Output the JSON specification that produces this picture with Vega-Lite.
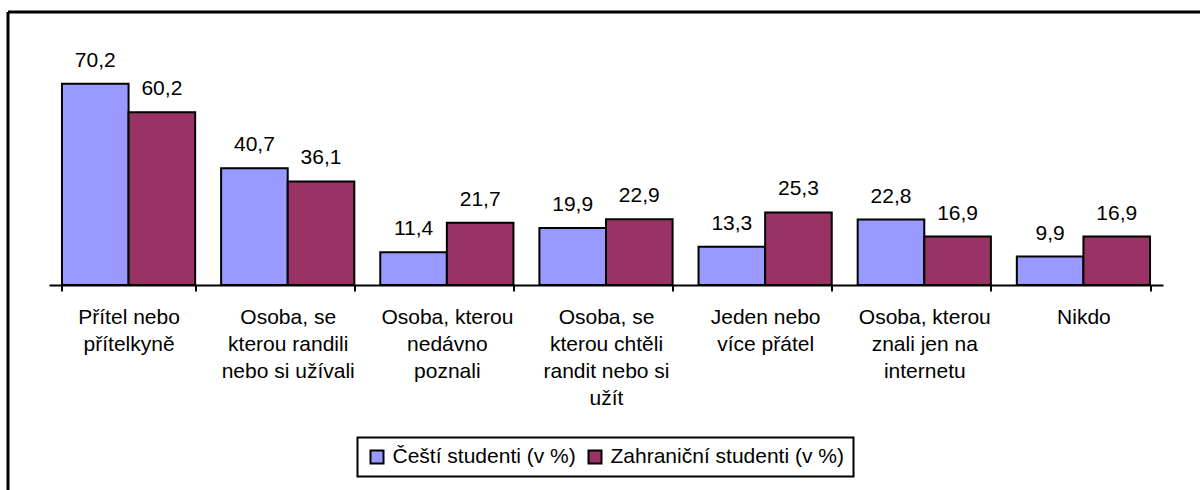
{
  "$schema": "https://vega.github.io/schema/vega-lite/v6.json",
  "autosize": "none",
  "padding": {"left": 7.5, "top": 11.5, "right": 0, "bottom": 0},
  "width": 1192.5,
  "height": 478.5,
  "background": "white",
  "data": {
    "values": [
      {"kategorie": "Přítel nebo|přítelkyně", "skupina": "Čeští studenti (v %)", "hodnota": 70.2},
      {"kategorie": "Přítel nebo|přítelkyně", "skupina": "Zahraniční studenti (v %)", "hodnota": 60.2},
      {"kategorie": "Osoba, se|kterou randili|nebo si užívali", "skupina": "Čeští studenti (v %)", "hodnota": 40.7},
      {"kategorie": "Osoba, se|kterou randili|nebo si užívali", "skupina": "Zahraniční studenti (v %)", "hodnota": 36.1},
      {"kategorie": "Osoba, kterou|nedávno|poznali", "skupina": "Čeští studenti (v %)", "hodnota": 11.4},
      {"kategorie": "Osoba, kterou|nedávno|poznali", "skupina": "Zahraniční studenti (v %)", "hodnota": 21.7},
      {"kategorie": "Osoba, se|kterou chtěli|randit nebo si|užít", "skupina": "Čeští studenti (v %)", "hodnota": 19.9},
      {"kategorie": "Osoba, se|kterou chtěli|randit nebo si|užít", "skupina": "Zahraniční studenti (v %)", "hodnota": 22.9},
      {"kategorie": "Jeden nebo|více přátel", "skupina": "Čeští studenti (v %)", "hodnota": 13.3},
      {"kategorie": "Jeden nebo|více přátel", "skupina": "Zahraniční studenti (v %)", "hodnota": 25.3},
      {"kategorie": "Osoba, kterou|znali jen na|internetu", "skupina": "Čeští studenti (v %)", "hodnota": 22.8},
      {"kategorie": "Osoba, kterou|znali jen na|internetu", "skupina": "Zahraniční studenti (v %)", "hodnota": 16.9},
      {"kategorie": "Nikdo", "skupina": "Čeští studenti (v %)", "hodnota": 9.9},
      {"kategorie": "Nikdo", "skupina": "Zahraniční studenti (v %)", "hodnota": 16.9}
    ]
  },
  "layer": [
    {
      "mark": {"type": "bar", "stroke": "black", "strokeWidth": 2},
      "encoding": {
        "x": {
          "field": "kategorie", "type": "nominal", "sort": null,
          "scale": {"range": [41.5, 1155.5], "paddingInner": 0.163, "paddingOuter": 0.0815},
          "axis": {
            "orient": "bottom", "offset": -205, "title": null,
            "labelExpr": "split(datum.label, '|')",
            "labelAngle": 0, "labelAlign": "center", "labelBaseline": "top",
            "labelFont": "Liberation Sans", "labelFontSize": 21, "labelColor": "black",
            "labelLineHeight": 27, "labelPadding": 15, "labelLimit": 0, "labelOverlap": false,
            "tickBand": "extent", "tickSize": 6, "tickWidth": 2, "tickColor": "black",
            "domainColor": "black", "domainWidth": 2, "grid": false
          }
        },
        "xOffset": {"field": "skupina", "type": "nominal", "sort": null, "scale": {"paddingInner": 0, "paddingOuter": 0}},
        "y": {
          "field": "hodnota", "type": "quantitative",
          "scale": {"domain": [-71.48, 95.36], "nice": false, "zero": false},
          "axis": {"orient": "left", "title": null, "labels": false, "ticks": false, "grid": false, "domain": true, "domainColor": "black", "domainWidth": 3}
        },
        "y2": {"datum": 0},
        "color": {
          "field": "skupina", "type": "nominal", "sort": null,
          "scale": {"domain": ["Čeští studenti (v %)", "Zahraniční studenti (v %)"], "range": ["#9999FF", "#993366"]},
          "legend": {
            "orient": "none", "legendX": 350, "legendY": 426, "direction": "horizontal",
            "title": null, "padding": 9, "strokeColor": "black", "fillColor": "white",
            "labelFont": "Liberation Sans", "labelFontSize": 21, "labelColor": "black",
            "symbolType": "square", "symbolSize": 169, "symbolStrokeColor": "black", "symbolStrokeWidth": 2,
            "symbolOpacity": 1, "labelOffset": 5, "columnPadding": 8, "labelLimit": 0,
            "encode": {"legend": {"update": {"strokeWidth": {"value": 2}}}}
          }
        }
      }
    },
    {
      "mark": {"type": "text", "font": "Liberation Sans", "fontSize": 21, "color": "black", "baseline": "alphabetic", "align": "center", "dy": -17},
      "encoding": {
        "x": {
          "field": "kategorie", "type": "nominal", "sort": null,
          "scale": {"range": [41.5, 1155.5], "paddingInner": 0.163, "paddingOuter": 0.0815},
          "axis": null
        },
        "xOffset": {"field": "skupina", "type": "nominal", "sort": null, "scale": {"paddingInner": 0, "paddingOuter": 0}},
        "y": {"field": "hodnota", "type": "quantitative",
          "axis": {"orient": "left", "title": null, "labels": false, "ticks": false, "grid": false, "domain": true, "domainColor": "black", "domainWidth": 3}},
        "text": {"field": "hodnota", "type": "quantitative", "format": ".1f"}
      }
    },
    {
      "mark": {"type": "rule", "opacity": 0},
      "encoding": {
        "x": {
          "datum": 0, "type": "quantitative", "scale": {"domain": [0, 1]},
          "axis": {"orient": "top", "title": null, "labels": false, "ticks": false, "grid": false, "domain": true, "domainColor": "black", "domainWidth": 3}
        }
      }
    }
  ],
  "resolve": {"scale": {"x": "independent"}, "axis": {"x": "independent"}},
  "config": {
    "view": {"stroke": null},
    "locale": {"number": {"decimal": ",", "thousands": " ", "grouping": [3], "currency": ["", " Kč"]}}
  }
}
